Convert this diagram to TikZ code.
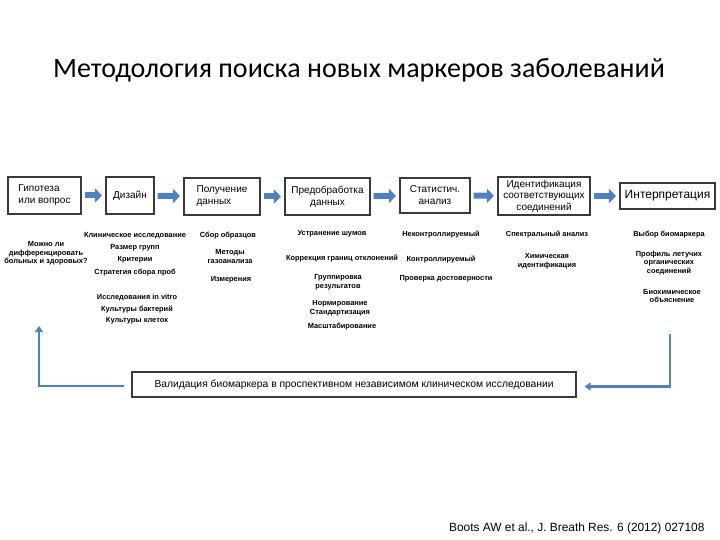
\documentclass[tikz,border=0pt]{standalone}
\usepackage{fontspec}
\setmainfont{Liberation Sans}
\newfontfamily\titlefont{Carlito}
\usetikzlibrary{arrows.meta,shadows}
\definecolor{arrblue}{HTML}{4F81BD}
\definecolor{boxline}{HTML}{3A3A3A}
\tikzset{
  stepbox/.style={draw=boxline,line width=1.1pt,fill=white,inner sep=1pt,align=center,
    font=\fontsize{10}{12}\selectfont,
    drop shadow={shadow xshift=1.2pt,shadow yshift=-1.2pt,fill=black!45,opacity=0.6}},
  blockarrow/.style={draw=arrblue,line width=6pt,shorten <=3pt,shorten >=3.5pt,
    -{Triangle[length=7pt,width=14pt]}},
  fb/.style={draw=arrblue,line width=2.6pt},
  lbl/.style={inner sep=0pt,align=center,font=\bfseries\fontsize{7.4}{8.6}\selectfont},
}
\begin{document}
\begin{tikzpicture}[x=1pt,y=-1pt]
\useasboundingbox (0,0) rectangle (720,540);
\node[font=\titlefont\fontsize{28}{32}\selectfont] (title) at (359,70) {Методология поиска новых маркеров заболеваний};

\node[stepbox,minimum width=73pt,minimum height=37pt,align=left] (b1) at (44.5,195.5) {Гипотеза\\или вопрос};
\node[stepbox,minimum width=48pt,minimum height=37pt] (b2) at (130,195.5) {Дизайн};
\node[stepbox,minimum width=76pt,minimum height=37pt,align=left] (b3) at (222,196.5) {Получение\\данных};
\node[stepbox,minimum width=85pt,minimum height=37pt] (b4) at (327.5,196.5) {Предобработка\\данных};
\node[stepbox,minimum width=70pt,minimum height=35pt] (b5) at (435,195.5) {Статистич.\\анализ};
\node[stepbox,minimum width=92pt,minimum height=38pt,font=\fontsize{10}{11.5}\selectfont] (b6) at (544,196) {Идентификация\\соответствующих\\соединений};
\node[stepbox,minimum width=95pt,minimum height=26pt,font=\fontsize{12}{14}\selectfont] (b7) at (667.5,196) {Интерпретация};

\draw[blockarrow] (b1) -- (b2);
\draw[blockarrow] (b2) -- (b3);
\draw[blockarrow] (b3) -- (b4);
\draw[blockarrow] (b4) -- (b5);
\draw[blockarrow] (b5) -- (b6);
\draw[blockarrow] (b6) -- (b7);

% column 1
\node[lbl] (q1) at (46,253.5) {Можно ли\\дифференцировать\\больных и здоровых?};
% column 2
\node[lbl] (d1) at (135,236) {Клиническое исследование};
\node[lbl] (d2) at (135,248) {Размер групп};
\node[lbl] (d3) at (135,260) {Критерии};
\node[lbl] (d4) at (135,273) {Стратегия сбора проб};
\node[lbl] (d5) at (137,298) {Исследования in vitro};
\node[lbl] (d6) at (137,309.5) {Культуры бактерий};
\node[lbl] (d7) at (137,321) {Культуры клеток};
% column 3
\node[lbl] (g1) at (228,236) {Сбор образцов};
\node[lbl] (g2) at (230,256.5) {Методы\\газоанализа};
\node[lbl] (g3) at (231,280) {Измерения};
% column 4
\node[lbl] (p1) at (332,234) {Устранение шумов};
\node[lbl] (p2) at (342,259) {Коррекция границ отклонений};
\node[lbl] (p3) at (338,282) {Группировка\\результатов};
\node[lbl] (p4) at (340,308) {Нормирование\\Стандартизация};
\node[lbl] (p5) at (342,327) {Масштабирование};
% column 5
\node[lbl] (s1) at (441,235) {Неконтроллируемый};
\node[lbl] (s2) at (441,259.5) {Контроллируемый};
\node[lbl] (s3) at (446,278.5) {Проверка достоверности};
% column 6
\node[lbl] (i1) at (547,235) {Спектральный анализ};
\node[lbl] (i2) at (547,261) {Химическая\\идентификация};
% column 7
\node[lbl] (r1) at (669,235) {Выбор биомаркера};
\node[lbl] (r2) at (669,263) {Профиль летучих\\органических\\соединений};
\node[lbl] (r3) at (672,296) {Биохимическое\\объяснение};

% validation
\node[stepbox,minimum width=444pt,minimum height=25pt,font=\fontsize{10.3}{12}\selectfont] (val) at (354,384.5) {Валидация биомаркера в проспективном независимом клиническом исследовании};

\coordinate (lt) at (39,326);
\coordinate (rt) at (670,334);
\draw[fb,-{Triangle[length=6pt,width=8pt]}] ([xshift=-7pt,yshift=-1.5pt]val.west) -| (lt);
\draw[fb,{Triangle[length=6pt,width=8pt]}-] ([xshift=8pt,yshift=-2pt]val.east) -| (rt);

\node[font=\fontsize{11.9}{14}\selectfont,anchor=east] (cite) at (708,528) {Boots AW et al., J. Breath Res. 6 (2012) 027108};
\end{tikzpicture}
\end{document}
